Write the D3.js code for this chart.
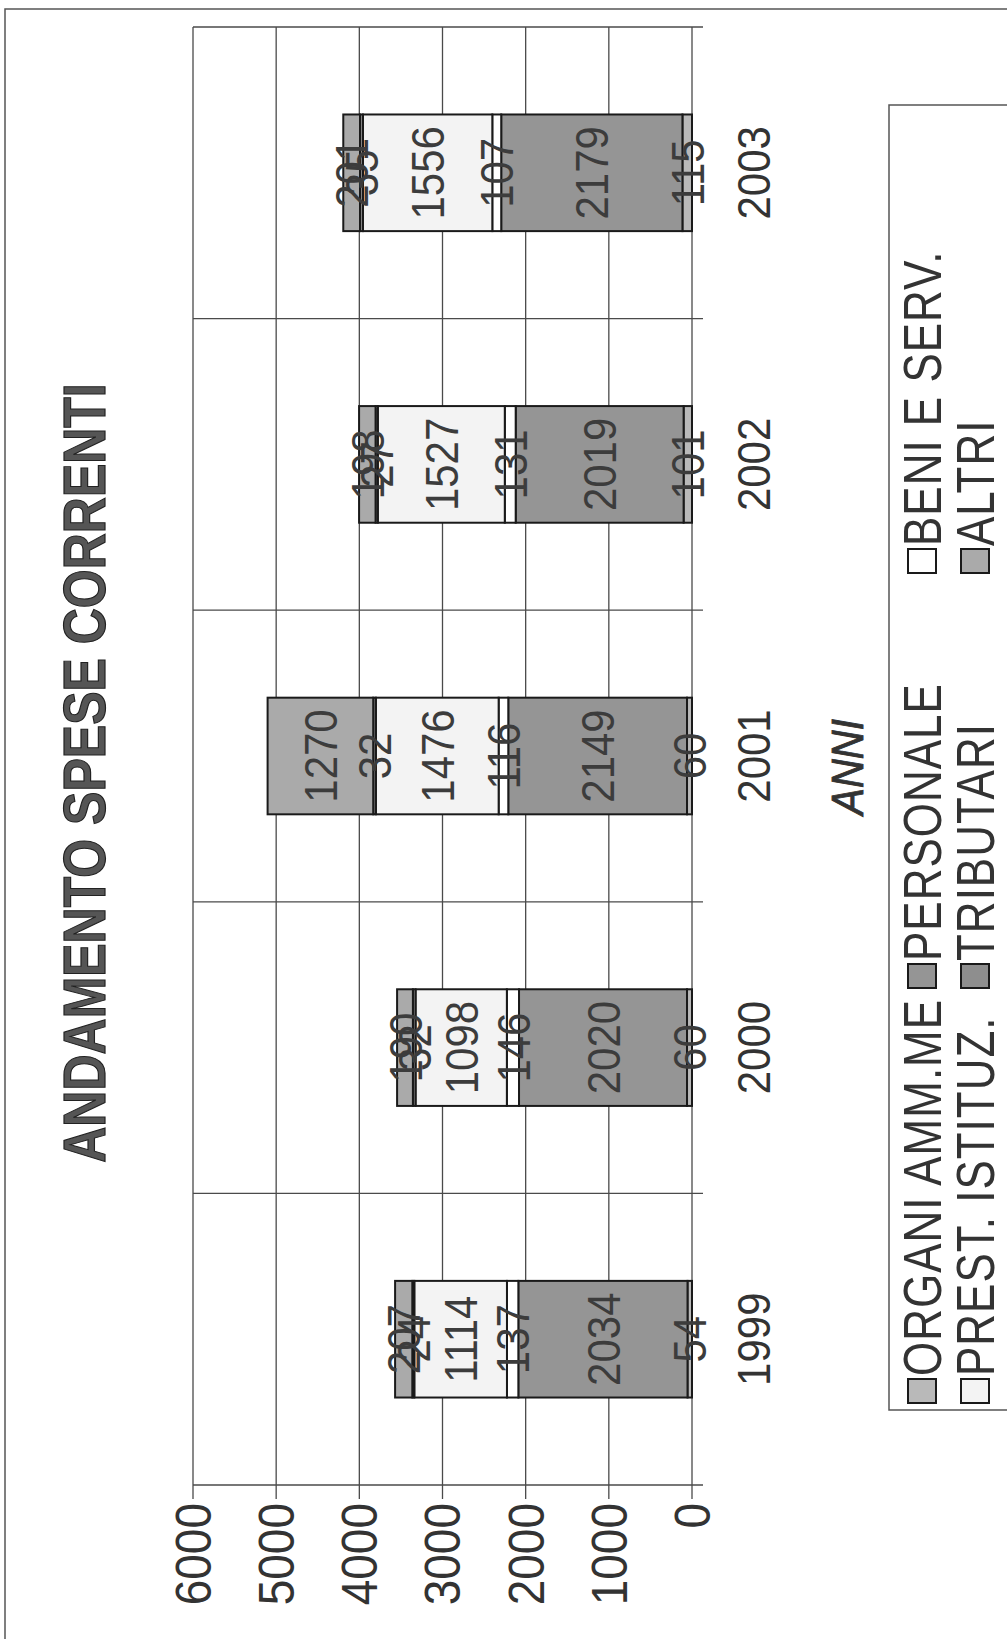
<!DOCTYPE html>
<html>
<head>
<meta charset="utf-8">
<script src="https://cdn.jsdelivr.net/npm/d3@7"></script>
<style>
  html, body { margin: 0; padding: 0; background: #fff; }
  svg { display: block; font-family: "Liberation Sans", Arial, sans-serif; }
</style>
</head>
<body>
<div id="chart"></div>
<script>
// data (values in the stacked bars)
const years = ["1999", "2000", "2001", "2002", "2003"];
const seriesNames = ["ORGANI AMM.ME", "PERSONALE", "BENI E SERV.", "PREST. ISTITUZ.", "TRIBUTARI", "ALTRI"];
const organi    = [54, 60, 60, 101, 115];
const personale = [2034, 2020, 2149, 2019, 2179];
const beniServ  = [137, 146, 116, 131, 107];
const prestIst  = [1114, 1098, 1476, 1527, 1556];
const tributari = [24, 32, 32, 27, 35];
const altri     = [207, 190, 1270, 198, 201];
const valueTicks = [0, 1000, 2000, 3000, 4000, 5000, 6000];

const colors = ["#b9b9b9", "#959595", "#ffffff", "#f3f3f3", "#8e8e8e", "#aaaaaa"];

const W = 1007, H = 1639;
// the whole chart is drawn landscape and then turned a quarter to the left

const rows = years.map((y, i) => ({
  year: y,
  "ORGANI AMM.ME": organi[i],
  "PERSONALE": personale[i],
  "BENI E SERV.": beniServ[i],
  "PREST. ISTITUZ.": prestIst[i],
  "TRIBUTARI": tributari[i],
  "ALTRI": altri[i]
}));

const stacked = d3.stack().keys(seriesNames)(rows);

const svg = d3.select("#chart").append("svg")
  .attr("width", W)
  .attr("height", H);

// outer frame
svg.append("path")
  .attr("d", `M5,${H} L5,9 L${W},9`)
  .attr("fill", "none")
  .attr("stroke", "#555")
  .attr("stroke-width", 1.5);

const g = svg.append("g")
  .attr("transform", `translate(0,${H}) rotate(-90)`);

const plot = { left: 154, right: 1612, top: 193, bottom: 692 };

const x = d3.scaleBand()
  .domain(years)
  .range([plot.left, plot.right])
  .paddingInner(0.6)
  .paddingOuter(0.3);

const y = d3.scaleLinear()
  .domain([0, 6000])
  .range([plot.bottom, plot.top]);

const color = d3.scaleOrdinal().domain(seriesNames).range(colors);

const step = x.step();
const gridColor = "#4a4a4a";

// value gridlines + ticks
g.append("g").selectAll("line")
  .data(valueTicks)
  .join("line")
  .attr("x1", plot.left - 14)
  .attr("x2", plot.right)
  .attr("y1", d => y(d))
  .attr("y2", d => y(d))
  .attr("stroke", gridColor)
  .attr("stroke-width", 1.3);

// category gridlines (between years) + ticks
const bounds = d3.range(years.length + 1).map(i => plot.left + i * step);
g.append("g").selectAll("line")
  .data(bounds)
  .join("line")
  .attr("x1", d => d)
  .attr("x2", d => d)
  .attr("y1", plot.top)
  .attr("y2", plot.bottom + 11)
  .attr("stroke", gridColor)
  .attr("stroke-width", 1.3);

// value labels
g.append("g").selectAll("text")
  .data(valueTicks)
  .join("text")
  .attr("transform", d => `translate(${plot.left - 18},${y(d)}) scale(1,1.08)`)
  .attr("dy", "0.36em")
  .attr("text-anchor", "end")
  .attr("font-size", 46)
  .attr("fill", "#333")
  .text(d => d);

// stacked bars
const layer = g.append("g").selectAll("g")
  .data(stacked)
  .join("g")
  .attr("fill", d => color(d.key));

layer.selectAll("rect")
  .data(d => d)
  .join("rect")
  .attr("x", d => x(d.data.year))
  .attr("width", x.bandwidth())
  .attr("y", d => y(d[1]))
  .attr("height", d => y(d[0]) - y(d[1]))
  .attr("stroke", "#1a1a1a")
  .attr("stroke-width", 2);

// segment labels, centred on each piece
const labels = g.append("g");
stacked.forEach(s => {
  labels.selectAll(null)
    .data(s)
    .join("text")
    .attr("transform", d => `translate(${x(d.data.year) + x.bandwidth() / 2},${(y(d[0]) + y(d[1])) / 2}) scale(1,1.1)`)
    .attr("dy", "0.36em")
    .attr("text-anchor", "middle")
    .attr("font-size", 42)
    .attr("fill", "#3c3c3c")
    .text(d => d.data[s.key]);
});

// year labels
g.append("g").selectAll("text")
  .data(years)
  .join("text")
  .attr("transform", d => `translate(${x(d) + x.bandwidth() / 2},753) scale(1,1.12)`)
  .attr("dy", "0.36em")
  .attr("text-anchor", "middle")
  .attr("font-size", 42)
  .attr("fill", "#333")
  .text(d => d);

// axis title
g.append("text")
  .attr("transform", "translate(872,847) scale(1,1.1)")
  .attr("dy", "0.36em")
  .attr("text-anchor", "middle")
  .attr("font-size", 40)
  .attr("font-style", "italic")
  .attr("fill", "#333")
  .attr("stroke", "#333")
  .attr("stroke-width", 0.8)
  .text("ANNI");

// title
g.append("text")
  .attr("transform", "translate(866,84) scale(1,1.18)")
  .attr("dy", "0.36em")
  .attr("text-anchor", "middle")
  .attr("font-size", 50)
  .attr("font-weight", "bold")
  .attr("fill", "#555")
  .attr("stroke", "#222")
  .attr("stroke-width", 1)
  .text("ANDAMENTO SPESE CORRENTI");

// legend: two rows, three columns
const legend = { left: 229, right: 1534, top: 889 };
g.append("rect")
  .attr("x", legend.left)
  .attr("y", legend.top)
  .attr("width", legend.right - legend.left)
  .attr("height", 140)
  .attr("fill", "#fff")
  .attr("stroke", "#555")
  .attr("stroke-width", 1.5);

const colStart = [236, 651, 1066];
const rowMid = [922, 975];
const items = g.append("g").selectAll("g")
  .data(seriesNames)
  .join("g")
  .attr("transform", (d, i) => `translate(${colStart[i % 3]},${rowMid[Math.floor(i / 3)]})`);

items.append("rect")
  .attr("x", 0)
  .attr("y", -14)
  .attr("width", 24)
  .attr("height", 28)
  .attr("fill", d => color(d))
  .attr("stroke", "#1a1a1a")
  .attr("stroke-width", 2);

items.append("text")
  .attr("transform", "translate(27,0) scale(1,1.2)")
  .attr("dy", "0.36em")
  .attr("font-size", 44)
  .attr("letter-spacing", 1)
  .attr("fill", "#333")
  .text(d => d);
</script>
</body>
</html>
